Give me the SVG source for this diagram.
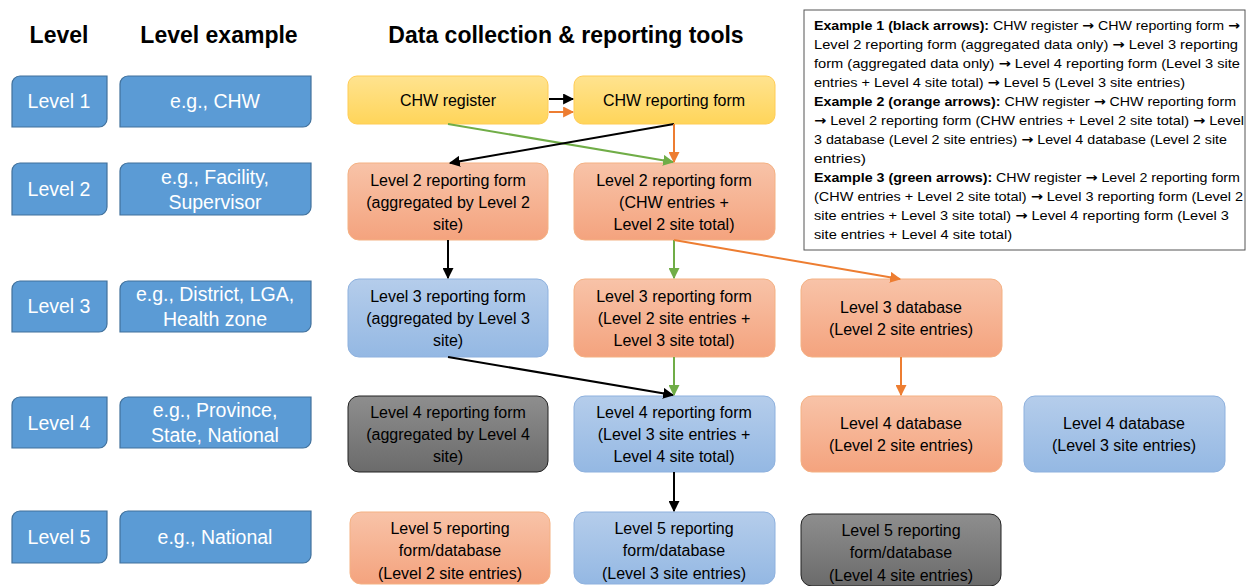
<svg xmlns="http://www.w3.org/2000/svg" width="1248" height="586" viewBox="0 0 1248 586">
<defs>
<linearGradient id="gY" x1="0" y1="0" x2="0" y2="1"><stop offset="0" stop-color="#FFE38F"/><stop offset="1" stop-color="#FFD55A"/></linearGradient>
<linearGradient id="gO" x1="0" y1="0" x2="0" y2="1"><stop offset="0" stop-color="#F8C3A8"/><stop offset="1" stop-color="#F4A37E"/></linearGradient>
<linearGradient id="gB" x1="0" y1="0" x2="0" y2="1"><stop offset="0" stop-color="#B5CDEB"/><stop offset="1" stop-color="#94B8E3"/></linearGradient>
<linearGradient id="gG" x1="0" y1="0" x2="0" y2="1"><stop offset="0" stop-color="#8E8E8E"/><stop offset="1" stop-color="#6B6B6B"/></linearGradient>
<marker id="aK" viewBox="0 0 10 10" refX="9" refY="5" markerWidth="5.5" markerHeight="5.5" orient="auto"><path d="M0,0 L10,5 L0,10 z" fill="#000"/></marker>
<marker id="aO" viewBox="0 0 10 10" refX="9" refY="5" markerWidth="5.5" markerHeight="5.5" orient="auto"><path d="M0,0 L10,5 L0,10 z" fill="#ED7D31"/></marker>
<marker id="aG" viewBox="0 0 10 10" refX="9" refY="5" markerWidth="5.5" markerHeight="5.5" orient="auto"><path d="M0,0 L10,5 L0,10 z" fill="#70AD47"/></marker>
</defs>
<style>
text{font-family:"Liberation Sans",Arial,sans-serif}
.hd{font-size:23px;font-weight:bold;fill:#000;text-anchor:middle}
.lv{fill:#5B9BD5;stroke:#41719C;stroke-width:1.2}
.lt{font-size:19.5px;fill:#fff;text-anchor:middle}
.nt{font-size:16px;fill:#000;text-anchor:middle}
.y{fill:url(#gY);stroke:#FFCC55;stroke-width:1}
.o{fill:url(#gO);stroke:#F4B183;stroke-width:1}
.b{fill:url(#gB);stroke:#8EB1DE;stroke-width:1}
.g{fill:url(#gG);stroke:#222;stroke-width:1}
.k{stroke:#000;stroke-width:2;fill:none;marker-end:url(#aK)}
.or{stroke:#ED7D31;stroke-width:2;fill:none;marker-end:url(#aO)}
.gr{stroke:#70AD47;stroke-width:2;fill:none;marker-end:url(#aG)}
.lg{font-size:13px;fill:#000}
.lg tspan.bd{font-weight:bold}
.lg tspan.ar{font-family:"DejaVu Sans",sans-serif;font-weight:bold}
</style>
<rect width="1248" height="586" fill="#fff"/>
<g id="headers">
<text class="hd" x="59" y="43">Level</text>
<text class="hd" x="219" y="43">Level example</text>
<text class="hd" x="566" y="43">Data collection &amp; reporting tools</text>
</g>
<g id="level1"><path class="lv" d="M20,76 H107 V119 A8,8 0 0 1 99,127 H12 V84 A8,8 0 0 1 20,76 Z"/><text class="lt" x="59" y="108">Level 1</text></g>
<g id="example1"><path class="lv" d="M128,76 H311 V119 A8,8 0 0 1 303,127 H120 V84 A8,8 0 0 1 128,76 Z"/><text class="lt" x="215" y="108">e.g., CHW</text></g>
<g id="level2"><path class="lv" d="M20,163 H107 V207 A8,8 0 0 1 99,215 H12 V171 A8,8 0 0 1 20,163 Z"/><text class="lt" x="59" y="196">Level 2</text></g>
<g id="example2"><path class="lv" d="M128,163 H311 V207 A8,8 0 0 1 303,215 H120 V171 A8,8 0 0 1 128,163 Z"/><text class="lt" x="215" y="184">e.g., Facility,</text><text class="lt" x="215" y="209">Supervisor</text></g>
<g id="level3"><path class="lv" d="M20,281 H107 V324 A8,8 0 0 1 99,332 H12 V289 A8,8 0 0 1 20,281 Z"/><text class="lt" x="59" y="313">Level 3</text></g>
<g id="example3"><path class="lv" d="M128,281 H311 V324 A8,8 0 0 1 303,332 H120 V289 A8,8 0 0 1 128,281 Z"/><text class="lt" x="215" y="301">e.g., District, LGA,</text><text class="lt" x="215" y="326">Health zone</text></g>
<g id="level4"><path class="lv" d="M20,397 H107 V440 A8,8 0 0 1 99,448 H12 V405 A8,8 0 0 1 20,397 Z"/><text class="lt" x="59" y="430">Level 4</text></g>
<g id="example4"><path class="lv" d="M128,397 H311 V440 A8,8 0 0 1 303,448 H120 V405 A8,8 0 0 1 128,397 Z"/><text class="lt" x="215" y="417">e.g., Province,</text><text class="lt" x="215" y="442">State, National</text></g>
<g id="level5"><path class="lv" d="M20,511 H107 V555 A8,8 0 0 1 99,563 H12 V519 A8,8 0 0 1 20,511 Z"/><text class="lt" x="59" y="544">Level 5</text></g>
<g id="example5"><path class="lv" d="M128,511 H311 V555 A8,8 0 0 1 303,563 H120 V519 A8,8 0 0 1 128,511 Z"/><text class="lt" x="215" y="544">e.g., National</text></g>

<g id="chw-register"><rect class="y" x="348" y="76" width="200" height="48" rx="9"/><text class="nt" x="448" y="106">CHW register</text></g>
<g id="chw-form"><rect class="y" x="574" y="76" width="201" height="48" rx="9"/><text class="nt" x="674" y="106">CHW reporting form</text></g>
<g id="l2-agg"><rect class="o" x="348" y="163" width="200" height="77" rx="11"/><text class="nt" x="448" y="186">Level 2 reporting form</text><text class="nt" x="448" y="208">(aggregated by Level 2</text><text class="nt" x="448" y="230">site)</text></g>
<g id="l2-chw"><rect class="o" x="574" y="163" width="201" height="77" rx="11"/><text class="nt" x="674" y="186">Level 2 reporting form</text><text class="nt" x="674" y="208">(CHW entries +</text><text class="nt" x="674" y="230">Level 2 site total)</text></g>
<g id="l3-agg"><rect class="b" x="348" y="279" width="200" height="78" rx="11"/><text class="nt" x="448" y="302">Level 3 reporting form</text><text class="nt" x="448" y="324">(aggregated by Level 3</text><text class="nt" x="448" y="346">site)</text></g>
<g id="l3-form"><rect class="o" x="574" y="279" width="201" height="78" rx="11"/><text class="nt" x="674" y="302">Level 3 reporting form</text><text class="nt" x="674" y="324">(Level 2 site entries +</text><text class="nt" x="674" y="346">Level 3 site total)</text></g>
<g id="l3-db"><rect class="o" x="801" y="279" width="201" height="78" rx="11"/><text class="nt" x="901" y="313">Level 3 database</text><text class="nt" x="901" y="335">(Level 2 site entries)</text></g>
<g id="l4-agg"><rect class="g" x="348" y="396" width="200" height="76" rx="11"/><text class="nt" x="448" y="418">Level 4 reporting form</text><text class="nt" x="448" y="440">(aggregated by Level 4</text><text class="nt" x="448" y="462">site)</text></g>
<g id="l4-form"><rect class="b" x="574" y="396" width="201" height="76" rx="11"/><text class="nt" x="674" y="418">Level 4 reporting form</text><text class="nt" x="674" y="440">(Level 3 site entries +</text><text class="nt" x="674" y="462">Level 4 site total)</text></g>
<g id="l4-db2"><rect class="o" x="801" y="396" width="201" height="76" rx="11"/><text class="nt" x="901" y="429">Level 4 database</text><text class="nt" x="901" y="451">(Level 2 site entries)</text></g>
<g id="l4-db3"><rect class="b" x="1024" y="396" width="201" height="76" rx="11"/><text class="nt" x="1124" y="429">Level 4 database</text><text class="nt" x="1124" y="451">(Level 3 site entries)</text></g>
<g id="l5-2"><rect class="o" x="350" y="512" width="200" height="72" rx="11"/><text class="nt" x="450" y="534">Level 5 reporting</text><text class="nt" x="450" y="556">form/database</text><text class="nt" x="450" y="579">(Level 2 site entries)</text></g>
<g id="l5-3"><rect class="b" x="574" y="512" width="201" height="72" rx="11"/><text class="nt" x="674" y="534">Level 5 reporting</text><text class="nt" x="674" y="556">form/database</text><text class="nt" x="674" y="579">(Level 3 site entries)</text></g>
<g id="l5-4"><rect class="g" x="801" y="514" width="200" height="72" rx="11"/><text class="nt" x="901" y="536">Level 5 reporting</text><text class="nt" x="901" y="558">form/database</text><text class="nt" x="901" y="581">(Level 4 site entries)</text></g>

<g id="connectors">
<line class="k" x1="549" y1="99" x2="573" y2="99"/>
<line class="or" x1="549" y1="112" x2="573" y2="112"/>
<line class="gr" x1="448" y1="124" x2="673" y2="162"/>
<line class="k" x1="674" y1="124" x2="450" y2="163"/>
<line class="or" x1="674" y1="124" x2="674" y2="162"/>
<line class="k" x1="448" y1="240" x2="448" y2="278"/>
<line class="gr" x1="674" y1="240" x2="674" y2="278"/>
<line class="or" x1="674" y1="240" x2="900" y2="279"/>
<line class="k" x1="448" y1="357" x2="673" y2="395"/>
<line class="gr" x1="674" y1="357" x2="674" y2="395"/>
<line class="or" x1="901" y1="357" x2="901" y2="395"/>
<line class="k" x1="674" y1="472" x2="674" y2="511"/>
</g>

<g id="legend">
<rect x="804" y="10" width="441" height="240" fill="#fff" stroke="#555" stroke-width="1"/>
<text class="lg" x="814" y="30" textLength="426" lengthAdjust="spacingAndGlyphs"><tspan class="bd">Example 1 (black arrows):</tspan> CHW register <tspan class="ar">→</tspan> CHW reporting form <tspan class="ar">→</tspan></text>
<text class="lg" x="814" y="49" textLength="424" lengthAdjust="spacingAndGlyphs">Level 2 reporting form (aggregated data only) <tspan class="ar">→</tspan> Level 3 reporting</text>
<text class="lg" x="814" y="68" textLength="426" lengthAdjust="spacingAndGlyphs">form (aggregated data only) <tspan class="ar">→</tspan> Level 4 reporting form (Level 3 site</text>
<text class="lg" x="814" y="87" textLength="371" lengthAdjust="spacingAndGlyphs">entries + Level 4 site total) <tspan class="ar">→</tspan> Level 5 (Level 3 site entries)</text>
<text class="lg" x="814" y="106" textLength="422" lengthAdjust="spacingAndGlyphs"><tspan class="bd">Example 2 (orange arrows):</tspan> CHW register <tspan class="ar">→</tspan> CHW reporting form</text>
<text class="lg" x="814" y="125" textLength="430" lengthAdjust="spacingAndGlyphs"><tspan class="ar">→</tspan> Level 2 reporting form (CHW entries + Level 2 site total) <tspan class="ar">→</tspan> Level</text>
<text class="lg" x="814" y="144" textLength="413" lengthAdjust="spacingAndGlyphs">3 database (Level 2 site entries) <tspan class="ar">→</tspan> Level 4 database (Level 2 site</text>
<text class="lg" x="814" y="163" textLength="52" lengthAdjust="spacingAndGlyphs">entries)</text>
<text class="lg" x="814" y="182" textLength="426" lengthAdjust="spacingAndGlyphs"><tspan class="bd">Example 3 (green arrows):</tspan> CHW register <tspan class="ar">→</tspan> Level 2 reporting form</text>
<text class="lg" x="814" y="201" textLength="429" lengthAdjust="spacingAndGlyphs">(CHW entries + Level 2 site total) <tspan class="ar">→</tspan> Level 3 reporting form (Level 2</text>
<text class="lg" x="814" y="220" textLength="415" lengthAdjust="spacingAndGlyphs">site entries + Level 3 site total) <tspan class="ar">→</tspan> Level 4 reporting form (Level 3</text>
<text class="lg" x="814" y="239" textLength="198" lengthAdjust="spacingAndGlyphs">site entries + Level 4 site total)</text>
</g>
</svg>
